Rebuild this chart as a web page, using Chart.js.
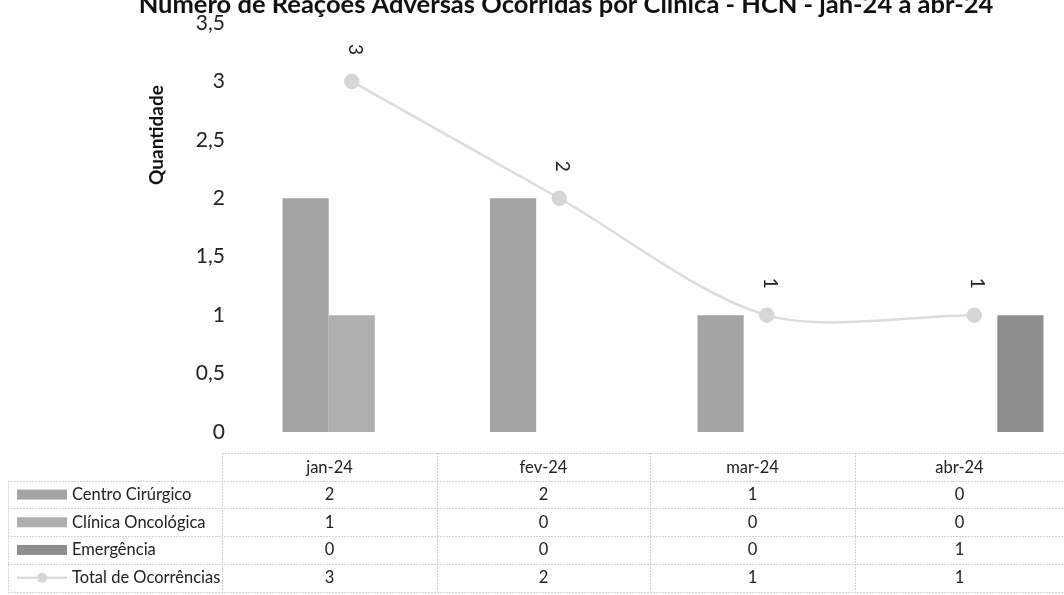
<!DOCTYPE html>
<html>
<head>
<meta charset="utf-8">
<script src="https://cdn.jsdelivr.net/npm/chart.js@4"></script>
<style>
  html, body { margin: 0; padding: 0; background: #fff; overflow: hidden; }
  #wrap { width: 1064px; height: 595px; overflow: hidden; }
</style>
</head>
<body>
<div id="wrap"><canvas id="chart" width="1081" height="595"></canvas></div>
<script>
const months = ["jan-24", "fev-24", "mar-24", "abr-24"];
const centroCirurgico = [2, 2, 1, 0];
const clinicaOncologica = [1, 0, 0, 0];
const emergencia = [0, 0, 0, 1];
const totalOcorrencias = [3, 2, 1, 1];
const yTicks = [0, 0.5, 1, 1.5, 2, 2.5, 3, 3.5];

const FONT = "Lato, 'Open Sans', sans-serif";
const fmt = (v) => String(v).replace(".", ",");

// title, y axis label, rotated data labels and the data table
const decorations = {
  id: "decorations",
  afterDatasetsDraw(chart) {
    const ctx = chart.ctx;
    const lineMeta = chart.getDatasetMeta(3);
    ctx.save();
    ctx.fillStyle = "#222";
    ctx.font = "19px " + FONT;
    ctx.textAlign = "center";
    ctx.textBaseline = "middle";
    lineMeta.data.forEach((pt, i) => {
      ctx.save();
      ctx.translate(pt.x + 3, pt.y - 32);
      ctx.rotate(Math.PI / 2);
      ctx.fillText(String(totalOcorrencias[i]), 0, 0);
      ctx.restore();
    });
    ctx.restore();
  },
  afterDraw(chart) {
    const ctx = chart.ctx;
    ctx.save();

    // title (top half is cut off in the reference)
    ctx.fillStyle = "#111";
    ctx.font = "bold 25.5px " + FONT;
    ctx.textAlign = "center";
    ctx.textBaseline = "alphabetic";
    ctx.fillText("Número de Reações Adversas Ocorridas por Clínica - HCN - jan-24 a abr-24", 566, 13);

    // y axis title
    ctx.save();
    ctx.translate(157, 135);
    ctx.rotate(-Math.PI / 2);
    ctx.font = "bold 19px " + FONT;
    ctx.textBaseline = "middle";
    ctx.fillText("Quantidade", 0, 0);
    ctx.restore();

    // data table
    const cols = [222, 437, 650, 855, 1064];
    const legL = 8;
    const top = 453;
    const rowH = 27.7;
    const rows = [
      { name: "Centro Cirúrgico", vals: centroCirurgico, color: "#a4a4a4" },
      { name: "Clínica Oncológica", vals: clinicaOncologica, color: "#afafaf" },
      { name: "Emergência", vals: emergencia, color: "#8e8e8e" },
      { name: "Total de Ocorrências", vals: totalOcorrencias, color: "#d6d6d6", line: true }
    ];

    ctx.strokeStyle = "#d2d2d2";
    ctx.lineWidth = 1;
    ctx.setLineDash([2, 1]);
    ctx.beginPath();
    ctx.moveTo(cols[0], top + 0.5);
    ctx.lineTo(cols[4], top + 0.5);
    for (let r = 1; r <= 5; r++) {
      const y = Math.round(top + r * rowH) + 0.5;
      ctx.moveTo(legL, y);
      ctx.lineTo(cols[4], y);
    }
    cols.forEach((x) => {
      ctx.moveTo(x + 0.5, top);
      ctx.lineTo(x + 0.5, top + 5 * rowH);
    });
    ctx.moveTo(legL + 0.5, top + rowH);
    ctx.lineTo(legL + 0.5, top + 5 * rowH);
    ctx.stroke();
    ctx.setLineDash([]);

    ctx.font = "16.5px " + FONT;
    ctx.fillStyle = "#222";
    ctx.textBaseline = "middle";
    ctx.textAlign = "center";
    months.forEach((m, i) => {
      ctx.fillText(m, (cols[i] + cols[i + 1]) / 2, top + rowH / 2 + 1);
    });

    rows.forEach((row, r) => {
      const cy = top + (r + 1.5) * rowH;
      if (row.line) {
        ctx.strokeStyle = row.color;
        ctx.lineWidth = 2;
        ctx.beginPath();
        ctx.moveTo(17, cy);
        ctx.lineTo(67, cy);
        ctx.stroke();
        ctx.fillStyle = row.color;
        ctx.beginPath();
        ctx.arc(42, cy, 5, 0, Math.PI * 2);
        ctx.fill();
      } else {
        ctx.fillStyle = row.color;
        ctx.fillRect(17, cy - 5, 50, 10);
      }
      ctx.fillStyle = "#222";
      ctx.textAlign = "left";
      ctx.fillText(row.name, 72, cy);
      ctx.textAlign = "center";
      row.vals.forEach((v, i) => {
        ctx.fillText(String(v), (cols[i] + cols[i + 1]) / 2, cy);
      });
    });

    ctx.restore();
  }
};

new Chart(document.getElementById("chart"), {
  data: {
    labels: months,
    datasets: [
      { type: "bar", label: "Centro Cirúrgico", data: centroCirurgico, backgroundColor: "#a4a4a4", order: 1 },
      { type: "bar", label: "Clínica Oncológica", data: clinicaOncologica, backgroundColor: "#afafaf", order: 1 },
      { type: "bar", label: "Emergência", data: emergencia, backgroundColor: "#8e8e8e", order: 1 },
      {
        type: "line",
        label: "Total de Ocorrências",
        data: totalOcorrencias,
        borderColor: "#dcdcdc",
        borderWidth: 2.5,
        pointRadius: 6.5,
        pointBackgroundColor: "#d6d6d6",
        pointBorderColor: "#d6d6d6",
        tension: 0.3,
        order: 0
      }
    ]
  },
  options: {
    responsive: false,
    animation: false,
    layout: { autoPadding: false, padding: { left: 0, right: 3, top: 23, bottom: 163 } },
    plugins: { legend: { display: false }, tooltip: { enabled: false } },
    datasets: { bar: { categoryPercentage: 0.667, barPercentage: 1.0 } },
    scales: {
      x: { display: false },
      y: {
        min: 0,
        max: 3.5,
        afterFit(scale) {
          scale.width = 248;
          // tick padding should not push the plot area down
          scale.paddingTop = 0;
          scale.paddingBottom = 0;
        },
        afterBuildTicks(scale) { scale.ticks = yTicks.map((v) => ({ value: v })); },
        grid: { display: false, drawTicks: false },
        border: { display: false },
        ticks: {
          padding: 23,
          color: "#222",
          font: { family: FONT, size: 21 },
          callback: (v) => fmt(v)
        }
      }
    }
  },
  plugins: [decorations]
});
</script>
</body>
</html>
